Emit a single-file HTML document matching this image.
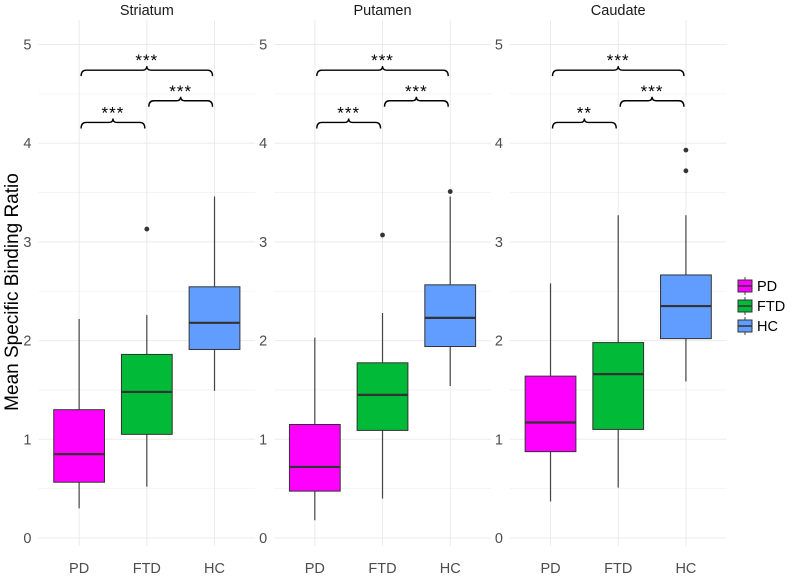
<!DOCTYPE html>
<html><head><meta charset="utf-8"><style>
html,body{margin:0;padding:0;background:#fff;}
svg{display:block;font-family:"Liberation Sans",sans-serif;}
</style></head><body>
<svg id="chart" width="800" height="582" viewBox="0 0 800 582"></svg>
<script>
const panels = ["Striatum","Putamen","Caudate"];
const groups = ["PD","FTD","HC"];
const colors = ["#FF00FF","#00BA38","#619CFF"];
const yTicks = [0,1,2,3,4,5];
// [low whisker, Q1, median, Q3, high whisker] per panel per group
const striatumStats = [[0.30,0.565,0.85,1.30,2.22],[0.52,1.05,1.48,1.86,2.26],[1.49,1.91,2.18,2.545,3.46]];
const putamenStats  = [[0.18,0.475,0.72,1.15,2.03],[0.40,1.09,1.45,1.775,2.28],[1.54,1.94,2.23,2.565,3.46]];
const caudateStats  = [[0.37,0.875,1.17,1.64,2.58],[0.51,1.10,1.66,1.98,3.27],[1.585,2.02,2.35,2.665,3.27]];
const striatumOutliers = [[],[3.13],[]];
const putamenOutliers  = [[],[3.07],[3.51]];
const caudateOutliers  = [[],[],[3.72,3.93]];
const bracketPairs = [[0,1],[1,2],[0,2]];
const bracketHeights = [4.21,4.43,4.74];
const striatumSig = ["***","***","***"];
const putamenSig  = ["***","***","***"];
const caudateSig  = ["**","***","***"];

const statsAll=[striatumStats,putamenStats,caudateStats];
const outAll=[striatumOutliers,putamenOutliers,caudateOutliers];
const sigAll=[striatumSig,putamenSig,caudateSig];

const svg=document.getElementById('chart');
const NS='http://www.w3.org/2000/svg';
function mk(tag,attrs,parent){const e=document.createElementNS(NS,tag);for(const k in attrs)e.setAttribute(k,attrs[k]);(parent||svg).appendChild(e);return e;}
const y0=538, yUnit=98.7;
function y(v){return y0-v*yUnit;}
const step=67.7, panelW=3.2*step, panelOff=235.7, panelLeft0=38.5;
function px(p,g){return panelLeft0+p*panelOff+0.6*step+g*step;}

panels.forEach((name,p)=>{
  const L=panelLeft0+p*panelOff, R=L+panelW;
  const g=mk('g',{});
  
  
  for(let v=0.5;v<5.3;v+=1){const l=mk('line',{x1:L,x2:R,y1:y(v),y2:y(v),stroke:'#f2f2f2','stroke-width':0.8},g);
    }
  yTicks.forEach(t=>{const l=mk('line',{x1:L,x2:R,y1:y(t),y2:y(t),stroke:'#ebebeb','stroke-width':1},g);
    
    const tx=mk('text',{x:L-7,y:y(t)+5,'text-anchor':'end','font-size':14.5,fill:'#4d4d4d'},g);tx.textContent=t;
    });
  groups.forEach((gr,i)=>{const x=px(p,i);
    const l=mk('line',{x1:x,x2:x,y1:20,y2:y0+8,stroke:'#ebebeb','stroke-width':1},g);
    
    const tx=mk('text',{x:x,y:573,'text-anchor':'middle','font-size':14.5,fill:'#4d4d4d'},g);tx.textContent=gr;
    });
  const t=mk('text',{x:(L+R)/2,y:15,'text-anchor':'middle','font-size':14.5,fill:'#1a1a1a'},g);t.textContent=name;
  
  groups.forEach((gr,i)=>{const s=statsAll[p][i];const x=px(p,i);const hw=0.375*step;
    const w=mk('line',{x1:x,x2:x,y1:y(s[0]),y2:y(s[4]),stroke:'#444','stroke-width':1.2},g);
    
    const b=mk('rect',{x:x-hw,y:y(s[3]),width:2*hw,height:y(s[1])-y(s[3]),fill:colors[i],stroke:'#333','stroke-width':1},g);
    
    const m=mk('line',{x1:x-hw,x2:x+hw,y1:y(s[2]),y2:y(s[2]),stroke:'#333','stroke-width':2.2},g);
    
    outAll[p][i].forEach(o=>{const c=mk('circle',{cx:x,cy:y(o),r:2.4,fill:'#333'},g);
      });
  });
  bracketPairs.forEach((pr,k)=>{const xa=px(p,pr[0])+2, xb=px(p,pr[1])-2, yy=y(bracketHeights[k]), xm=(xa+xb)/2;
    const d=`M${xa},${yy+6} Q${xa},${yy} ${xa+5},${yy} L${xm-4},${yy} Q${xm},${yy} ${xm},${yy-4} Q${xm},${yy} ${xm+4},${yy} L${xb-5},${yy} Q${xb},${yy} ${xb},${yy+6}`;
    const br=mk('path',{d:d,fill:'none',stroke:'#000','stroke-width':1.4},g);
    
    const tx=mk('text',{x:xm,y:yy-4,'text-anchor':'middle','font-size':17,fill:'#000','letter-spacing':'1'},g);tx.textContent=sigAll[p][k];
    
  });
});
const yt=mk('text',{x:0,y:0,transform:'translate(18,292) rotate(-90)','text-anchor':'middle','font-size':19,fill:'#000'});
yt.textContent='Mean Specific Binding Ratio';

groups.forEach((gr,i)=>{const cy=286+i*20;
  const lg=mk('g',{});
  
  mk('line',{x1:745,x2:745,y1:cy-9,y2:cy+9,stroke:'#444','stroke-width':1},lg);
  mk('rect',{x:738,y:cy-6,width:14,height:12,fill:colors[i],stroke:'#333','stroke-width':1},lg);
  mk('line',{x1:738,x2:752,y1:cy,y2:cy,stroke:'#333','stroke-width':1.5},lg);
  const tx=mk('text',{x:757,y:cy+5,'font-size':14.5,fill:'#000'},lg);tx.textContent=gr;
});
</script>
</body></html>
